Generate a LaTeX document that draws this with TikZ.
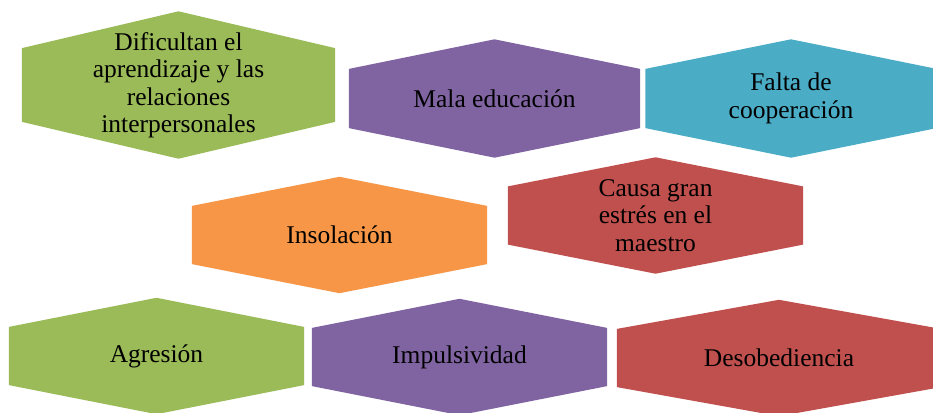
\documentclass[tikz,border=0pt]{standalone}
\usepackage{fontspec}
\setmainfont{Liberation Serif}
\newfontfamily\hexfont{Liberation Serif}
\usepackage{tikz}
\usetikzlibrary{calc,backgrounds}
\definecolor{hgreen}{HTML}{9BBB59}
\definecolor{hpurple}{HTML}{8064A2}
\definecolor{hblue}{HTML}{4BACC6}
\definecolor{horange}{HTML}{F79646}
\definecolor{hred}{HTML}{C0504D}
\tikzset{ hexa/.style={inner sep=0pt,align=center,font=\hexfont\fontsize{25.5}{27.5}\selectfont} }

\begin{document}
\begin{tikzpicture}[x=1pt,y=-1pt]
  \path[use as bounding box] (0,0) rectangle (933,412);
  \node[hexa,minimum width=313pt,minimum height=147pt] (dif) at (178.5,85) {Dificultan el\\aprendizaje  y las\\relaciones\\interpersonales};
  \node[hexa,minimum width=291pt,minimum height=118pt] (mala) at (494.5,98.5) {Mala educación};
  \node[hexa,minimum width=291pt,minimum height=118pt] (falta) at (791,98.5) {Falta de\\cooperación};
  \node[hexa,minimum width=295pt,minimum height=116pt] (inso) at (339.5,235) {Insolación};
  \node[hexa,minimum width=295pt,minimum height=116pt] (causa) at (655.5,215.5) {Causa gran\\estrés en el\\maestro};
  \node[hexa,minimum width=295pt,minimum height=116pt] (agre) at (156.5,356) {Agresión};
  \node[hexa,minimum width=295pt,minimum height=116pt] (impu) at (459.5,357) {Impulsividad};
  \node[hexa,minimum width=324pt,minimum height=116pt] (deso) at (779,358) {Desobediencia};
  % hexagons behind the texts
  \begin{scope}[on background layer]
    \foreach \n/\c in {dif/hgreen,mala/hpurple,falta/hblue,inso/horange,causa/hred,agre/hgreen,impu/hpurple,deso/hred}
      \fill[\c] ($(\n.north west)!.25!(\n.south west)$) -- (\n.north)
        -- ($(\n.north east)!.25!(\n.south east)$) -- ($(\n.north east)!.75!(\n.south east)$)
        -- (\n.south) -- ($(\n.north west)!.75!(\n.south west)$) -- cycle;
  \end{scope}
\end{tikzpicture}
\end{document}
